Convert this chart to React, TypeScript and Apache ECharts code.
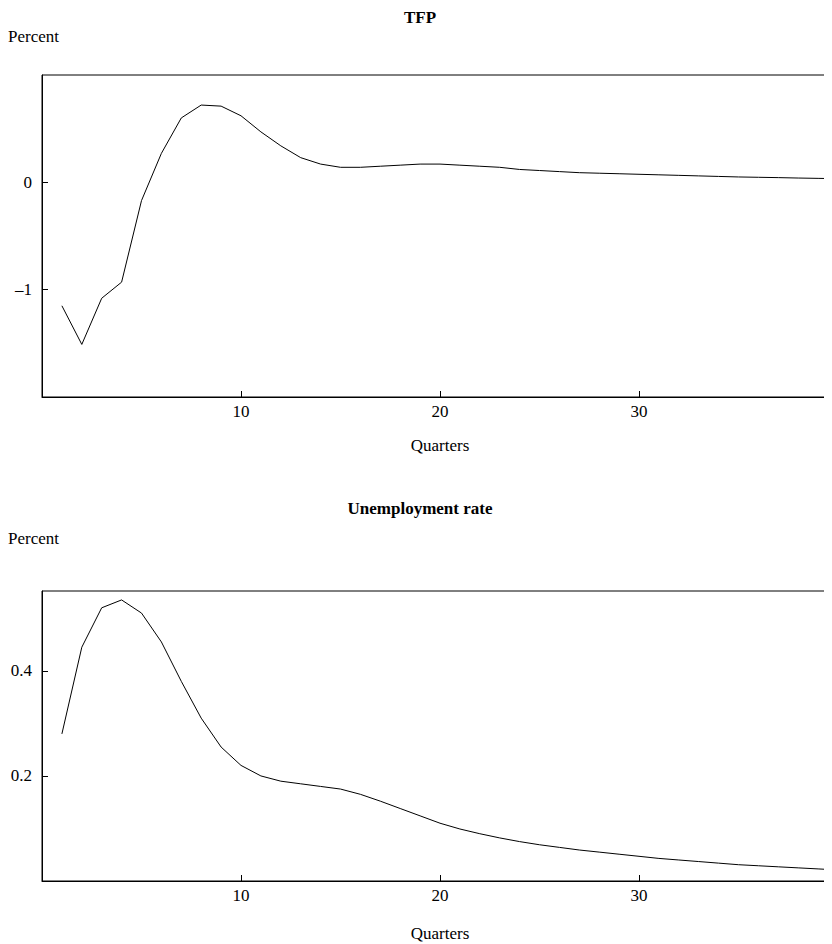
import { useEffect, useRef } from 'react'
import * as echarts from 'echarts'

const quarters = Array.from({ length: 40 }, (_, i) => i + 1)
const tfp = [-1.15, -1.51, -1.08, -0.93, -0.17, 0.27, 0.6, 0.72, 0.71, 0.62,
  0.47, 0.34, 0.23, 0.17, 0.14, 0.14, 0.15, 0.16, 0.17, 0.17,
  0.16, 0.15, 0.14, 0.12, 0.11, 0.1, 0.09, 0.085, 0.08, 0.075,
  0.07, 0.065, 0.06, 0.055, 0.05, 0.047, 0.044, 0.04, 0.037, 0.034]
const unemp = [0.28, 0.445, 0.52, 0.535, 0.51, 0.455, 0.38, 0.31, 0.255, 0.22,
  0.2, 0.19, 0.185, 0.18, 0.175, 0.165, 0.152, 0.138, 0.124, 0.11,
  0.099, 0.09, 0.082, 0.075, 0.069, 0.064, 0.059, 0.055, 0.051, 0.047,
  0.043, 0.04, 0.037, 0.034, 0.031, 0.029, 0.027, 0.025, 0.023, 0.021]
const tfpTicks = [-1, 0]
const unempTicks = [0, 0.2, 0.4]
const unempLabels = [0.2, 0.4]
const xTicks = [10, 20, 30]

const font = 'Liberation Serif'
const ink = '#000'

export default function App() {
  const ref = useRef<HTMLDivElement>(null)

  useEffect(() => {
    if (!ref.current) return
    const chart = echarts.init(ref.current, null, { renderer: 'svg' })

    const xAxis = (gridIndex: number, nameGap: number) => ({
      gridIndex, type: 'value', min: 0, max: 40,
      axisLine: { show: true, onZero: false, lineStyle: { color: ink } },
      axisTick: { inside: true, length: 6, customValues: xTicks, lineStyle: { color: ink } },
      axisLabel: { customValues: xTicks, color: ink, fontFamily: font, fontSize: 17, margin: 6 },
      splitLine: { show: false },
      name: 'Quarters', nameLocation: 'middle', nameGap,
      nameTextStyle: { color: ink, fontFamily: font, fontSize: 17 },
    })
    const yAxis = (gridIndex: number, min: number, max: number, ticks: number[], labels: number[], fmt: (v: number) => string) => ({
      gridIndex, type: 'value', min, max,
      axisLine: { show: true, lineStyle: { color: ink } },
      axisTick: { inside: true, length: 6, customValues: ticks, lineStyle: { color: ink } },
      axisLabel: { customValues: labels, color: ink, fontFamily: font, fontSize: 17, margin: 10, formatter: fmt },
      splitLine: { show: false },
    })
    const text = (left: number, top: number, t: string, bold = false) => ({
      type: 'text', left, top,
      style: { text: t, fill: ink, font: `${bold ? 'bold ' : ''}17px "${font}"` },
    })

    chart.setOption({
      animation: false,
      grid: [
        { left: 34, top: 67, width: 796, height: 322, show: true, borderColor: ink, borderWidth: 1, backgroundColor: 'transparent', outerBoundsMode: 'none' },
        { left: 34, top: 583, width: 796, height: 290, show: true, borderColor: ink, borderWidth: 1, backgroundColor: 'transparent', outerBoundsMode: 'none' },
      ],
      xAxis: [xAxis(0, 40), xAxis(1, 44)],
      yAxis: [
        yAxis(0, -2, 1, tfpTicks, tfpTicks, (v: number) => (v < 0 ? '\u2013' + Math.abs(v) : String(v))),
        yAxis(1, 0, 0.552, unempTicks, unempLabels, (v: number) => v.toFixed(1)),
      ],
      graphic: [
        { ...text(0, 0, 'TFP', true), left: 'center', top: 1 },
        text(0, 20, 'Percent'),
        { ...text(0, 0, 'Unemployment rate', true), left: 'center', top: 492 },
        text(0, 522, 'Percent'),
      ],
      series: [
        { type: 'line', xAxisIndex: 0, yAxisIndex: 0, data: quarters.map((q, i) => [q, tfp[i]]), showSymbol: false, lineStyle: { color: ink, width: 1 } },
        { type: 'line', xAxisIndex: 1, yAxisIndex: 1, data: quarters.map((q, i) => [q, unemp[i]]), showSymbol: false, lineStyle: { color: ink, width: 1 } },
      ],
    })
    return () => chart.dispose()
  }, [])

  return <div ref={ref} style={{ width: 824, height: 936 }} />
}
